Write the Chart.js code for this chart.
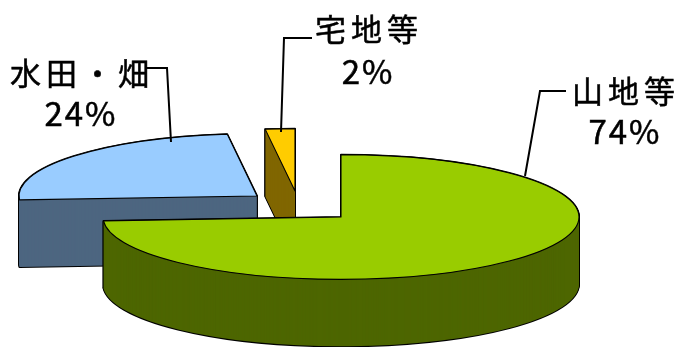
<!DOCTYPE html>
<html>
<head>
<meta charset="utf-8">
<style>
  html, body { margin: 0; padding: 0; background: #fff; }
  canvas { display: block; }
</style>
<script src="https://cdn.jsdelivr.net/npm/chart.js@4"></script>
</head>
<body>
<canvas id="chart" width="677" height="347"></canvas>
<script>
// Chart data
const categories = ["山地等", "水田・畑", "宅地等"];
const shares = [74, 24, 2];
const topColors = ["#99cc00", "#99ccff", "#ffcc00"];
const sideColors = ["#4d6600", "#4d6680", "#806600"];

// Where each exploded slice has its apex on the page
const sliceCenters = [[341, 217], [257, 196], [295, 191]];
const radiusX = 238;
const squash = 0.262;
const depth = 67;

// Label positions and leader lines
const labelSpots = [[624, 103, 144], [80, 85, 126], [367, 41, 84]];
const leaders = [
  [[566, 91], [540, 91], [525, 176]],
  [[145, 68], [167, 68], [171, 142]],
  [[312, 38], [284, 38], [281, 132]]
];

// Put the context into the flattened view of one slice, lowered by dy pixels
function enterSlice(ctx, arc, i, dy) {
  const c = sliceCenters[i];
  ctx.setTransform(1, 0, 0, 1, 0, 0);
  ctx.translate(c[0], c[1] + dy);
  ctx.scale(1, squash);
  ctx.translate(-arc.x, -arc.y);
}

// Outline a slice at an even line width (the path is flattened, the pen is not)
function strokeSlice(ctx, arc, i, dy, width) {
  ctx.save();
  enterSlice(ctx, arc, i, dy);
  ctx.beginPath();
  ctx.moveTo(arc.x, arc.y);
  ctx.arc(arc.x, arc.y, arc.outerRadius, arc.startAngle, arc.endAngle);
  ctx.closePath();
  ctx.setTransform(1, 0, 0, 1, 0, 0);
  ctx.lineWidth = width;
  ctx.strokeStyle = "#000";
  ctx.lineJoin = "round";
  ctx.stroke();
  ctx.restore();
}

function fillSlice(ctx, arc, i, dy, color) {
  const saved = arc.options;
  arc.options = Object.assign({}, saved, { backgroundColor: color, borderWidth: 0 });
  ctx.save();
  enterSlice(ctx, arc, i, dy);
  arc.draw(ctx);
  ctx.restore();
  arc.options = saved;
}

// Replaces the normal flat pie drawing with the extruded one
const pie3d = {
  id: "pie3d",
  beforeDatasetsDraw(chart) {
    const ctx = chart.ctx;
    const arcs = chart.getDatasetMeta(0).data;
    // back slices first, the big one goes on top of them
    for (let i = arcs.length - 1; i >= 0; i--) {
      const arc = arcs[i];
      for (let d = depth; d >= 0; d--) strokeSlice(ctx, arc, i, d, 2);
      for (let d = depth; d >= 1; d--) fillSlice(ctx, arc, i, d, sideColors[i]);
      fillSlice(ctx, arc, i, 0, topColors[i]);
      strokeSlice(ctx, arc, i, 0, 1.1);
    }
    return false;
  },
  afterDraw(chart) {
    const ctx = chart.ctx;
    ctx.save();
    ctx.setTransform(1, 0, 0, 1, 0, 0);
    ctx.strokeStyle = "#000";
    ctx.lineWidth = 2;
    leaders.forEach(line => {
      ctx.beginPath();
      line.forEach((p, n) => n ? ctx.lineTo(p[0], p[1]) : ctx.moveTo(p[0], p[1]));
      ctx.stroke();
    });
    ctx.fillStyle = "#000";
    ctx.textAlign = "center";
    ctx.textBaseline = "alphabetic";
    ctx.lineWidth = 0.5;
    categories.forEach((name, i) => {
      const spot = labelSpots[i];
      ctx.font = '31px "Noto Sans CJK JP"';
      ctx.letterSpacing = "5px";
      ctx.fillText(name, spot[0] + 2, spot[1]);
      ctx.strokeText(name, spot[0] + 2, spot[1]);
      ctx.font = '33px "Noto Sans CJK JP"';
      ctx.letterSpacing = "2px";
      ctx.fillText(shares[i] + "%", spot[0] + 1, spot[2]);
      ctx.strokeText(shares[i] + "%", spot[0] + 1, spot[2]);
    });
    ctx.restore();
  }
};

new Chart(document.getElementById("chart"), {
  type: "pie",
  data: {
    labels: categories,
    datasets: [{ data: shares, backgroundColor: topColors, borderWidth: 0 }]
  },
  options: {
    responsive: false,
    animation: false,
    radius: radiusX,
    events: [],
    plugins: { legend: { display: false }, tooltip: { enabled: false } }
  },
  plugins: [pie3d]
});
</script>
</body>
</html>
